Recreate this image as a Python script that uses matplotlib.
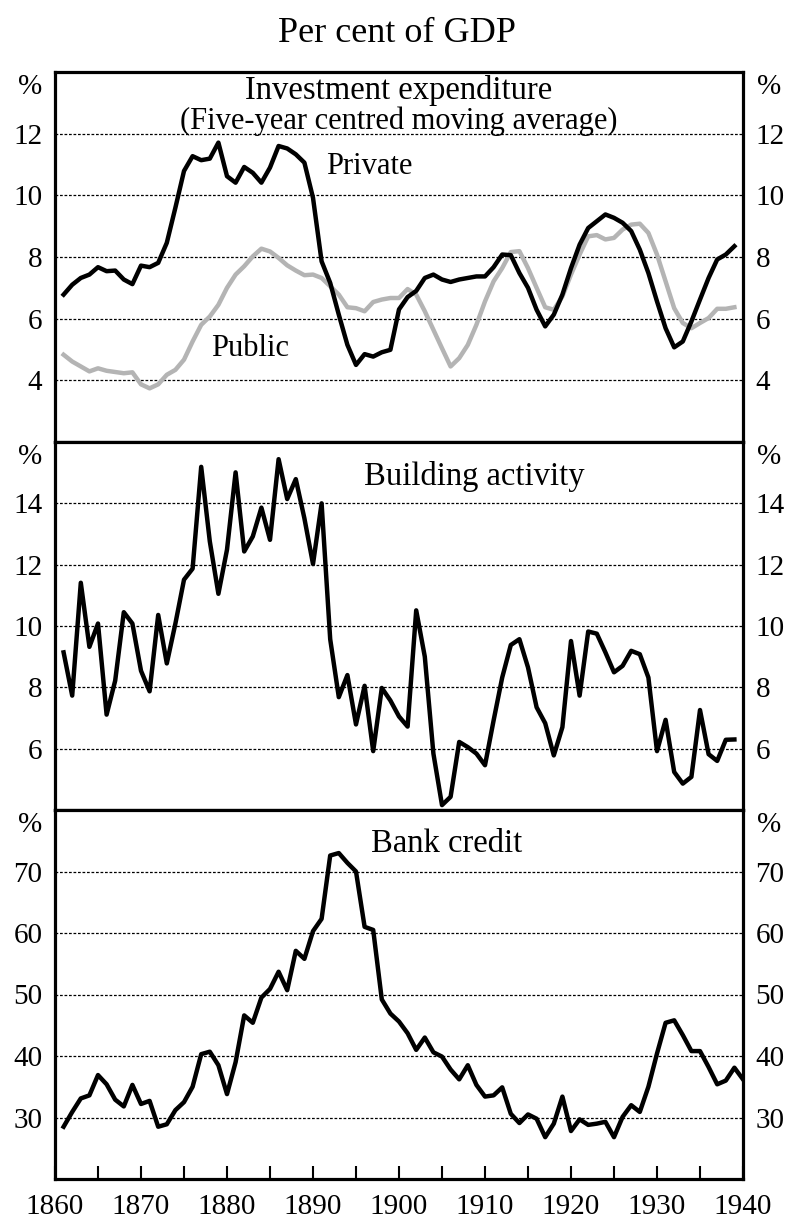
import numpy as np
import matplotlib
matplotlib.use("Agg")
import matplotlib.pyplot as plt

plt.rcParams['font.family'] = ['Liberation Serif', 'DejaVu Serif']

# data
years_inv = np.arange(1861, 1940)
private_inv = [6.78, 7.10, 7.32, 7.43, 7.67, 7.54, 7.56, 7.27, 7.12, 7.72,
               7.67, 7.81, 8.46, 9.60, 10.79, 11.27, 11.14, 11.19, 11.71, 10.62,
               10.41, 10.92, 10.73, 10.41, 10.90, 11.60, 11.52, 11.33, 11.06, 9.92,
               7.86, 7.16, 6.13, 5.15, 4.50, 4.85, 4.77, 4.91, 4.99, 6.30,
               6.70, 6.90, 7.32, 7.43, 7.27, 7.19, 7.27, 7.32, 7.37, 7.37,
               7.67, 8.08, 8.06, 7.48, 7.00, 6.29, 5.75, 6.13, 6.78, 7.64,
               8.40, 8.94, 9.16, 9.38, 9.27, 9.11, 8.84, 8.24, 7.48, 6.56,
               5.69, 5.07, 5.26, 5.91, 6.62, 7.32, 7.92, 8.08, 8.35]
public_inv = [4.83, 4.61, 4.45, 4.29, 4.39, 4.31, 4.27, 4.23, 4.26, 3.87,
              3.74, 3.87, 4.18, 4.34, 4.67, 5.26, 5.80, 6.07, 6.45, 7.00,
              7.43, 7.70, 8.02, 8.27, 8.18, 7.97, 7.73, 7.56, 7.41, 7.43,
              7.32, 7.05, 6.78, 6.37, 6.34, 6.24, 6.54, 6.62, 6.67, 6.67,
              6.96, 6.78, 6.24, 5.64, 5.04, 4.45, 4.72, 5.15, 5.80, 6.56,
              7.21, 7.64, 8.16, 8.19, 7.64, 7.00, 6.37, 6.29, 6.72, 7.43,
              8.08, 8.67, 8.71, 8.57, 8.62, 8.89, 9.05, 9.08, 8.78, 8.08,
              7.21, 6.34, 5.86, 5.69, 5.86, 6.02, 6.32, 6.32, 6.37]

years_bld = np.arange(1861, 1940)
building = [9.14, 7.73, 11.41, 9.32, 10.08, 7.11, 8.22, 10.45, 10.08, 8.54,
            7.87, 10.36, 8.78, 10.08, 11.51, 11.87, 15.19, 12.76, 11.05, 12.49,
            15.01, 12.43, 12.92, 13.86, 12.81, 15.44, 14.14, 14.79, 13.51, 12.02,
            14.00, 9.57, 7.68, 8.40, 6.79, 8.05, 5.92, 7.98, 7.57, 7.05,
            6.72, 10.51, 9.00, 5.84, 4.16, 4.43, 6.22, 6.05, 5.84, 5.46,
            6.92, 8.32, 9.38, 9.57, 8.65, 7.35, 6.83, 5.78, 6.70, 9.51,
            7.73, 9.82, 9.75, 9.14, 8.49, 8.70, 9.19, 9.08, 8.32, 5.92,
            6.94, 5.24, 4.86, 5.08, 7.26, 5.82, 5.60, 6.29, 6.30]

years_bank = np.arange(1861, 1941)
bank_credit = [28.5, 30.9, 33.1, 33.6, 36.9, 35.4, 32.9, 31.8, 35.3, 32.2,
               32.7, 28.5, 28.9, 31.2, 32.5, 35.0, 40.3, 40.7, 38.5, 33.8,
               39.0, 46.6, 45.4, 49.5, 50.9, 53.7, 50.7, 57.1, 55.8, 60.3,
               62.3, 72.6, 73.0, 71.4, 70.0, 61.0, 60.5, 49.2, 46.9, 45.6,
               43.7, 41.0, 43.0, 40.6, 39.9, 37.8, 36.2, 38.5, 35.3, 33.4,
               33.6, 34.9, 30.6, 29.1, 30.5, 29.8, 26.8, 29.0, 33.4, 27.8,
               29.7, 28.8, 29.0, 29.3, 26.8, 30.1, 32.0, 30.9, 35.0, 40.4,
               45.4, 45.8, 43.4, 40.8, 40.8, 38.2, 35.4, 36.0, 38.1, 36.2]

inv_ticks = [4, 6, 8, 10, 12]
bld_ticks = [6, 8, 10, 12, 14]
bank_ticks = [30, 40, 50, 60, 70]
year_labels = np.arange(1860, 1941, 10)

fig = plt.figure(figsize=(7.93, 12.2), dpi=100)

left, width = 55 / 793, 688 / 793
ax1 = fig.add_axes([left, 1 - 442 / 1220, width, 370 / 1220])
ax2 = fig.add_axes([left, 1 - 810 / 1220, width, 368 / 1220])
ax3 = fig.add_axes([left, 1 - 1179 / 1220, width, 369 / 1220])

grid_kw = dict(color='black', lw=0.9, linestyle=(0, (2.2, 1.4)), zorder=1)


def style_panel(ax, ylim, yticks):
    ax.set_xlim(1860, 1940)
    ax.set_ylim(*ylim)
    ax.set_yticks(yticks)
    for yv in yticks:
        ax.axhline(yv, **grid_kw)
    for s in ax.spines.values():
        s.set_linewidth(2.3)
    ax.tick_params(axis='y', length=0, pad=9, labelsize=21,
                   left=True, right=True, labelleft=True, labelright=True)
    # "%" above the tick labels on both sides
    ax.annotate('%', xy=(0, 1), xycoords='axes fraction', xytext=(-9.5, -11),
                textcoords='offset points', ha='right', va='center', fontsize=21)
    ax.annotate('%', xy=(1, 1), xycoords='axes fraction', xytext=(10, -11),
                textcoords='offset points', ha='left', va='center', fontsize=21)


# investment expenditure
style_panel(ax1, (2, 14), inv_ticks)
ax1.plot(years_inv, public_inv, color='#b4b4b4', lw=3.2, zorder=2)
ax1.plot(years_inv, private_inv, color='black', lw=3.2, zorder=3)
ax1.set_xticks([])
ax1.text(1900, 13.12, 'Investment expenditure', ha='center', va='baseline', fontsize=23.5)
ax1.text(1900, 12.16, '(Five-year centred moving average)', ha='center', va='baseline', fontsize=22)
ax1.text(1896.5, 10.93, 'Private', ha='center', va='center', fontsize=22)
ax1.text(1882.7, 5.03, 'Public', ha='center', va='center', fontsize=22)

# building activity
style_panel(ax2, (4, 16), bld_ticks)
ax2.plot(years_bld, building, color='black', lw=3.2, zorder=3)
ax2.set_xticks([])
ax2.text(1908.8, 14.61, 'Building activity', ha='center', va='baseline', fontsize=23.5)

# bank credit
style_panel(ax3, (20, 80), bank_ticks)
ax3.plot(years_bank, bank_credit, color='black', lw=3.2, zorder=3)
ax3.text(1905.5, 73.1, 'Bank credit', ha='center', va='baseline', fontsize=23.5)
ax3.set_xticks(year_labels)
ax3.set_xticks(np.arange(1865, 1940, 10), minor=True)
ax3.tick_params(axis='x', which='both', direction='in', length=9.4, width=1.5,
                labelsize=21, pad=10.5)

fig.text(0.5, 1 - 33 / 1220, 'Per cent of GDP', ha='center', va='center', fontsize=26)

fig.savefig('out.png', dpi=100)
